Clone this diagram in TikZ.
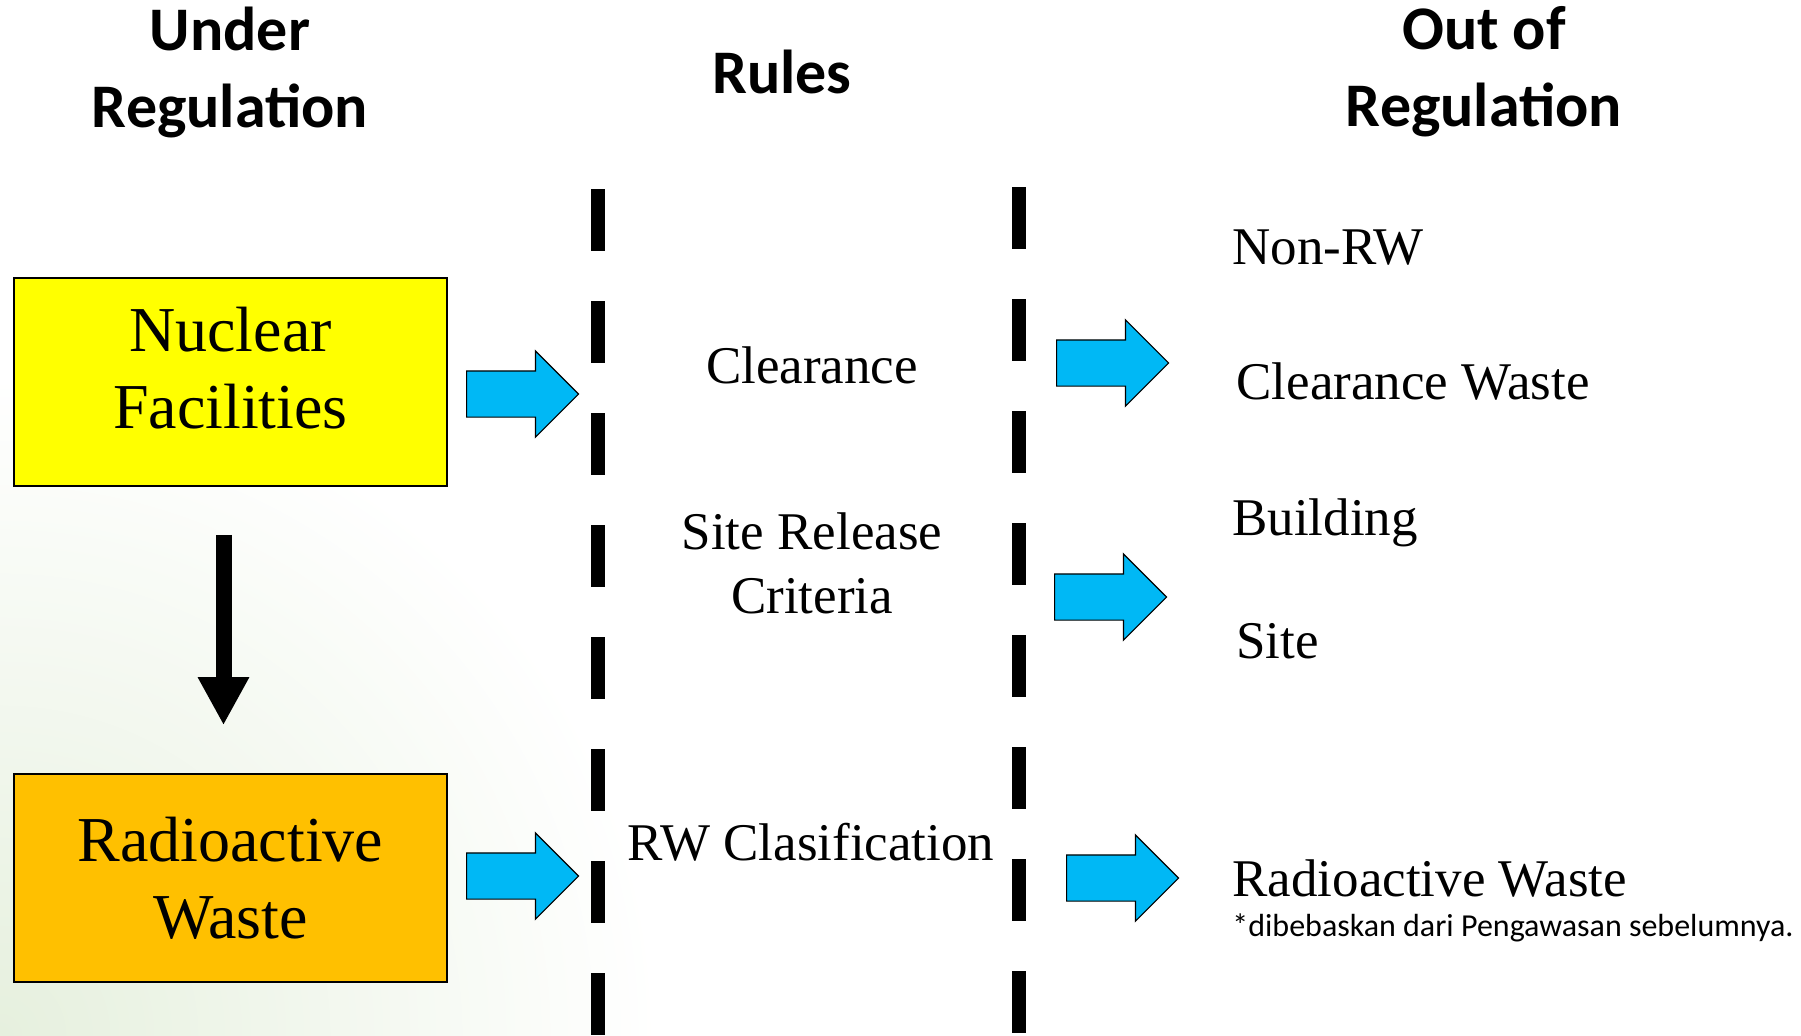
\documentclass[tikz,border=0pt]{standalone}
\usepackage{fontspec}
\setmainfont{Liberation Serif}
\newfontfamily\calfont{Carlito}
\usetikzlibrary{arrows.meta,shapes.arrows}
\definecolor{boxyellow}{HTML}{FFFF00}
\definecolor{boxorange}{HTML}{FFC000}
\definecolor{arrblue}{HTML}{00B8F5}
\definecolor{bggreen}{HTML}{E6F0DE}
\newcommand{\hdrfont}{\calfont\bfseries\fontsize{31}{38.5}\selectfont}
\newcommand{\boxfont}{\fontsize{32}{38.5}\selectfont}
\newcommand{\midfont}{\fontsize{26.5}{32}\selectfont}

\begin{document}
\begin{tikzpicture}[x=0.5pt, y=-0.5pt,
  facbox/.style={draw, line width=0.8pt, minimum width=216.5pt, minimum height=104pt, align=center, font=\boxfont},
  bluearr/.style={single arrow, draw, line width=0.6pt, fill=arrblue, anchor=tail, inner xsep=0pt, inner ysep=11.25pt,
    minimum width=42.5pt, minimum height=56pt, single arrow head extend=10pt, single arrow tip angle=90},
  divider/.style={line width=7pt, dash pattern=on 31pt off 25pt},
  rtext/.style={anchor=west, inner sep=0pt, font=\midfont}]
\useasboundingbox (0,0) rectangle (1801,1035);
\begin{scope}
\clip (0,0) rectangle (1801,1035);
\shade[inner color=bggreen, outer color=white] (0,1035) circle (330pt);
\end{scope}

\node[align=center, font=\hdrfont] (under) at (230, 72) {Under\\Regulation};
\node[font=\hdrfont] (rules) at (782, 72) {Rules};
\node[align=center, font=\hdrfont] (out) at (1484, 72) {Out of\\Regulation};

\node[facbox, fill=boxyellow] (nf) at (230.5, 382) {};
\node[align=center, font=\boxfont] (nftext) at (230.5, 368) {Nuclear\\Facilities};
\node[facbox, fill=boxorange] (rw) at (230.5, 878) {Radioactive\\Waste};
\draw[line width=8pt, -{Triangle[width=24pt, length=24pt]}, shorten <=24pt, shorten >=24pt]
  ([xshift=-3.5pt]nf.south) -- ([xshift=-3.5pt]rw.north);

\draw[divider] (598, 189) -- (598, 1035);
\draw[divider] (1019, 187) -- (1019, 1035);

\node[font=\midfont] (clear) at (812, 365) {Clearance};
\node[font=\midfont, align=center] (srel) at (812, 563) {Site Release\\Criteria};
\node[font=\midfont] (rwcls) at (811, 842) {RW Clasification};

\node[bluearr] (a1) at (466, 394) {};
\node[bluearr] (a2) at (466, 876) {};
\node[bluearr] (a3) at (1056, 363) {};
\node[bluearr] (a4) at (1054, 597) {};
\node[bluearr] (a5) at (1066, 878) {};

\node[rtext] (nonrw) at (1232, 248) {Non-RW};
\node[rtext] (clw) at (1236, 382) {Clearance Waste};
\node[rtext] (bldg) at (1232, 523) {Building};
\node[rtext] (site) at (1236, 641) {Site};
\node[rtext] (radw) at (1232, 879) {Radioactive Waste};
\node[rtext, font=\calfont\fontsize{16}{19}\selectfont] (note) at (1232, 928) {*dibebaskan dari Pengawasan sebelumnya.};
\end{tikzpicture}
\end{document}
